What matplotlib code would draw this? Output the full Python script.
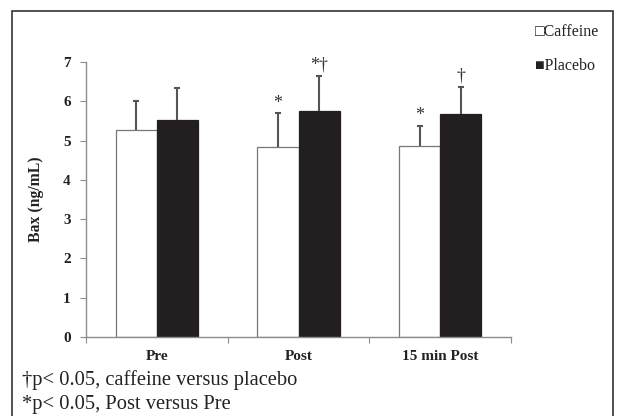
import matplotlib
matplotlib.use("Agg")
import matplotlib.pyplot as plt
import numpy as np
from matplotlib.patches import Rectangle

categories = ["Pre", "Post", "15 min Post"]
caffeine = [5.26, 4.83, 4.86]
caffeine_err = [0.74, 0.87, 0.52]
placebo = [5.52, 5.75, 5.67]
placebo_err = [0.82, 0.89, 0.69]
caffeine_marks = ["", "*", "*"]
placebo_marks = ["", "*\u2020", "\u2020"]
footnotes = ["\u2020p< 0.05, caffeine versus placebo",
             "*p< 0.05, Post versus Pre"]

SERIF = ["Liberation Serif", "DejaVu Serif"]
plt.rcParams["font.family"] = SERIF
GREY = "#8c8c8c"
BLACK = "#231f20"
W, H = 617, 416

fig = plt.figure(figsize=(W / 100, H / 100), dpi=100)
fig.add_artist(Rectangle((12 / W, -0.05), 601 / W, 1.05 - 11 / H,
                         transform=fig.transFigure, fill=False,
                         edgecolor="#333333", linewidth=1.2))

ax = fig.add_axes([86 / W, (H - 337) / H, 425 / W, 275 / H])
x = np.arange(len(categories))
w = 0.29
ax.bar(x - w / 2, caffeine, w, color="white", edgecolor="#777777", linewidth=0.9)
ax.bar(x + w / 2, placebo, w, color=BLACK, edgecolor=BLACK, linewidth=0.9)

# upper error bars only, capped at the top
for xs, vals, errs in ((x - w / 2, caffeine, caffeine_err),
                       (x + w / 2, placebo, placebo_err)):
    tops = np.array(vals) + np.array(errs)
    ax.vlines(xs, vals, tops, color="#555555", linewidth=1.5, zorder=3)
    ax.plot(xs, tops, linestyle="none", marker="_", markersize=5,
            markeredgewidth=1.5, color="#555555", zorder=3)

for i in range(len(categories)):
    if caffeine_marks[i]:
        ax.annotate(caffeine_marks[i], (x[i] - w / 2, caffeine[i] + caffeine_err[i]),
                    xytext=(0, 1), textcoords="offset points", ha="center",
                    va="bottom", fontsize=13, color="#333333")
    if placebo_marks[i]:
        ax.annotate(placebo_marks[i], (x[i] + w / 2, placebo[i] + placebo_err[i]),
                    xytext=(0, 2), textcoords="offset points", ha="center",
                    va="bottom", fontsize=13, color="#333333")

ax.set_xlim(-0.5, len(categories) - 0.5)
ax.set_ylim(0, 7)
ax.set_yticks(range(8))
ax.set_xticks(np.arange(-0.5, len(categories)))
ax.set_xticklabels([])
ax.set_xticks(x, categories, minor=True)
ax.tick_params(axis="x", which="major", length=4, color=GREY, direction="out")
ax.tick_params(axis="x", which="minor", length=0, pad=9)
ax.tick_params(axis="y", length=4, color=GREY, pad=7)
for lab in ax.get_xticklabels(minor=True) + ax.get_yticklabels():
    lab.set_fontweight("bold")
    lab.set_fontsize(11)
    lab.set_color("#222222")
ax.set_ylabel("Bax (ng/mL)", fontsize=11.3, fontweight="bold", labelpad=14,
              color="#222222")
for s in ("top", "right"):
    ax.spines[s].set_visible(False)
for s in ("left", "bottom"):
    ax.spines[s].set_color(GREY)
    ax.spines[s].set_linewidth(1.0)

fig.text(535 / W, 1 - 32 / H, "\u25a1Caffeine", fontsize=11.5, va="center",
         family=["Liberation Serif", "DejaVu Sans"], color="#222222")
fig.text(535 / W, 1 - 66 / H, "\u25a0Placebo", fontsize=11.5, va="center",
         family=["Liberation Serif", "DejaVu Sans"], color="#222222")

fig.text(22 / W, 1 - 380 / H, footnotes[0], fontsize=14.8, va="center",
         color="#222222")
fig.text(22 / W, 1 - 404 / H, footnotes[1], fontsize=14.8, va="center",
         color="#222222")

fig.savefig("out.png", dpi=100)
